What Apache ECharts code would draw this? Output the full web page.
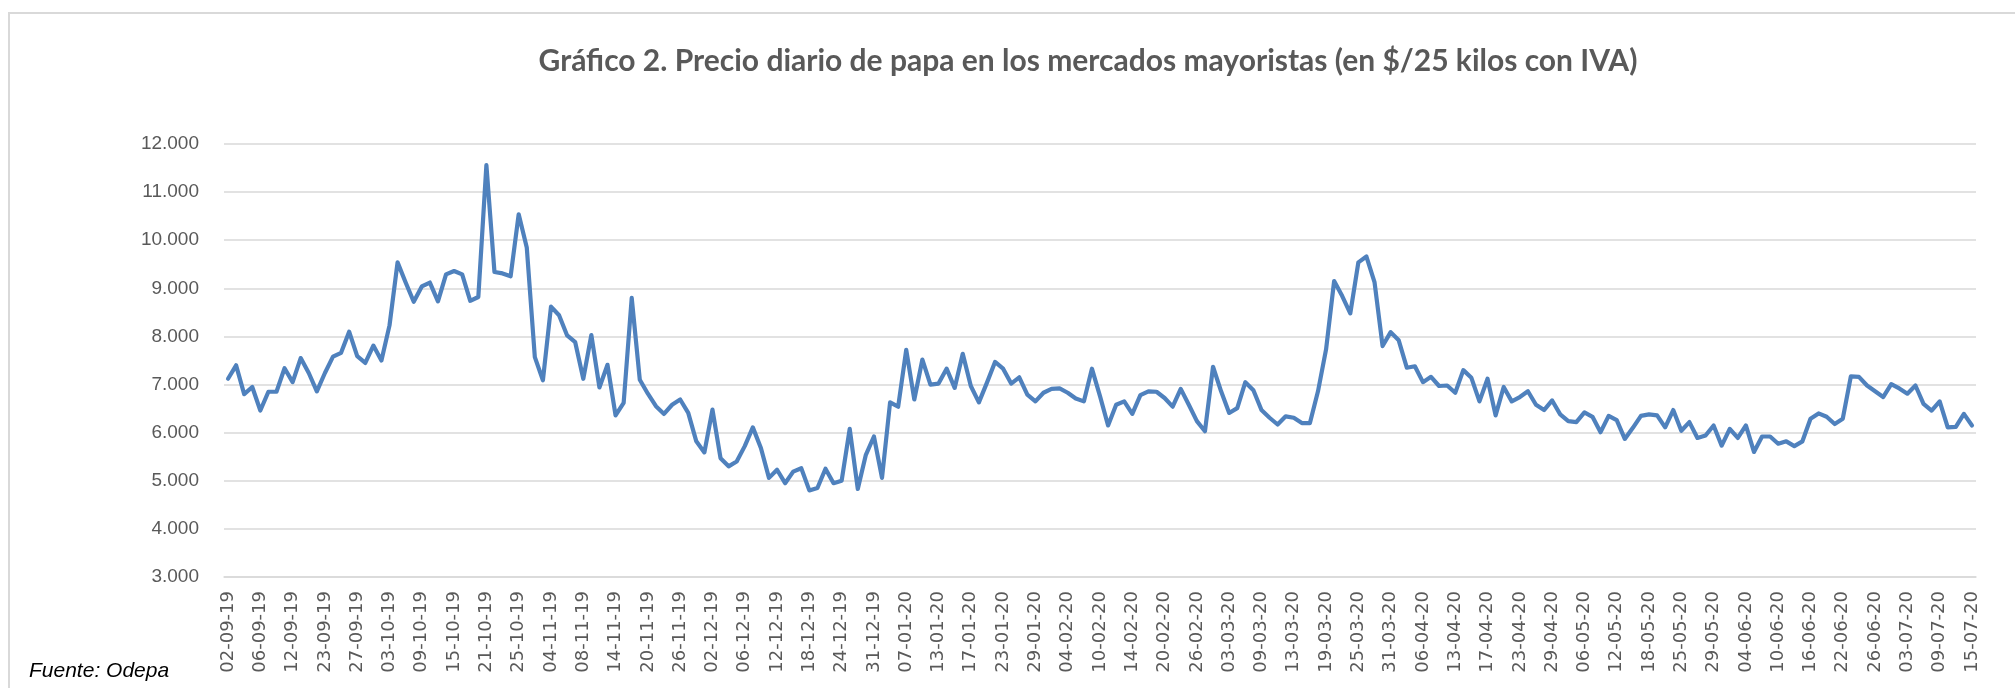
<!DOCTYPE html>
<html>
<head>
<meta charset="utf-8">
<script src="https://cdn.jsdelivr.net/npm/echarts@6/dist/echarts.min.js"></script>
<style>
  html, body { margin: 0; padding: 0; background: #fff; }
  #chart { width: 2015px; height: 688px; }
</style>
</head>
<body>
<div id="chart"></div>
<script>
// etiquetas del eje x (una cada 4 días hábiles)
const tickLabels = [
  '02-09-19', '06-09-19', '12-09-19', '23-09-19', '27-09-19', '03-10-19', '09-10-19', '15-10-19',
  '21-10-19', '25-10-19', '04-11-19', '08-11-19', '14-11-19', '20-11-19', '26-11-19', '02-12-19',
  '06-12-19', '12-12-19', '18-12-19', '24-12-19', '31-12-19', '07-01-20', '13-01-20', '17-01-20',
  '23-01-20', '29-01-20', '04-02-20', '10-02-20', '14-02-20', '20-02-20', '26-02-20', '03-03-20',
  '09-03-20', '13-03-20', '19-03-20', '25-03-20', '31-03-20', '06-04-20', '13-04-20', '17-04-20',
  '23-04-20', '29-04-20', '06-05-20', '12-05-20', '18-05-20', '25-05-20', '29-05-20', '04-06-20',
  '10-06-20', '16-06-20', '22-06-20', '26-06-20', '03-07-20', '09-07-20', '15-07-20'
]

// precio diario ($/25 kg con IVA)
const precios = [
  7120, 7400, 6800, 6950, 6460, 6850, 6850, 7340, 7050, 7550, 7240, 6860,
  7240, 7580, 7660, 8100, 7590, 7450, 7810, 7500, 8230, 9540, 9120, 8720,
  9040, 9120, 8730, 9290, 9360, 9290, 8740, 8820, 11560, 9340, 9310, 9250,
  10540, 9850, 7570, 7090, 8620, 8440, 8020, 7880, 7120, 8030, 6940, 7410,
  6360, 6620, 8800, 7100, 6810, 6550, 6390, 6580, 6690, 6410, 5820, 5590,
  6480, 5470, 5300, 5400, 5720, 6110, 5680, 5060, 5230, 4950, 5190, 5260,
  4800, 4850, 5250, 4950, 5000, 6080, 4830, 5540, 5920, 5060, 6630, 6540,
  7720, 6690, 7520, 7000, 7020, 7330, 6930, 7640, 6970, 6630, 7040, 7470,
  7330, 7020, 7150, 6790, 6650, 6830, 6910, 6920, 6830, 6710, 6650, 7330,
  6760, 6150, 6580, 6650, 6390, 6780, 6860, 6850, 6720, 6540, 6910, 6580,
  6240, 6030, 7370, 6860, 6410, 6510, 7050, 6880, 6470, 6310, 6170, 6340,
  6310, 6200, 6200, 6860, 7730, 9150, 8840, 8480, 9540, 9660, 9130, 7800,
  8090, 7920, 7350, 7380, 7050, 7160, 6970, 6980, 6830, 7300, 7140, 6650,
  7120, 6360, 6950, 6650, 6740, 6860, 6580, 6470, 6670, 6380, 6240, 6220,
  6420, 6330, 6010, 6350, 6260, 5870, 6100, 6350, 6380, 6360, 6110, 6470,
  6040, 6220, 5890, 5940, 6150, 5730, 6080, 5890, 6150, 5600, 5920, 5920,
  5770, 5820, 5720, 5820, 6290, 6400, 6330, 6180, 6290, 7170, 7160, 6980,
  6860, 6740, 7010, 6920, 6810, 6980, 6600, 6460, 6650, 6110, 6120, 6390,
  6150
]

// una etiqueta cada 4 puntos, el resto vacío
const categories = precios.map((v, i) => (i % 4 === 0 ? tickLabels[i / 4] : ''))

const chart = echarts.init(document.getElementById('chart'))
const option = {
  backgroundColor: '#fff',
  animation: false,
  title: {
    text: 'Gráfico 2. Precio diario de papa en los mercados mayoristas (en $/25 kilos con IVA)',
    left: 1083,
    top: 41,
    textAlign: 'center',
    textStyle: {
      fontFamily: 'Lato',
      fontWeight: 'bold',
      fontSize: 30,
      color: '#595959'
    }
  },
  graphic: [
    {
      type: 'rect',
      shape: { x: 9, y: 13, width: 2200, height: 900 },
      style: { fill: 'none', stroke: '#d9d9d9', lineWidth: 2 },
      silent: true
    },
    {
      type: 'text',
      left: 29,
      top: 661,
      style: {
        text: 'Fuente: Odepa',
        font: 'italic 21px "Liberation Sans"',
        fill: '#000'
      }
    }
  ],
  grid: {
    left: 224,
    right: 39,
    top: 144,
    bottom: 111
  },
  xAxis: {
    type: 'category',
    data: categories,
    boundaryGap: true,
    axisLine: { show: true, lineStyle: { color: '#d9d9d9', width: 1.5 } },
    axisTick: { show: false },
    axisLabel: {
      interval: 3,
      rotate: 90,
      margin: 14,
      color: '#595959',
      fontFamily: 'DejaVu Sans',
      fontSize: 18
    }
  },
  yAxis: {
    type: 'value',
    min: 3000,
    max: 12000,
    interval: 1000,
    axisLine: { show: false },
    axisTick: { show: false },
    splitLine: { lineStyle: { color: '#d9d9d9', width: 1.5 } },
    axisLabel: {
      margin: 25,
      color: '#595959',
      fontFamily: 'Liberation Sans',
      fontSize: 19,
      formatter: v => (v / 1000).toFixed(3)
    }
  },
  series: [
    {
      name: 'Precio',
      type: 'line',
      data: precios,
      symbol: 'none',
      lineStyle: { color: '#4f81bd', width: 4.2, cap: 'round', join: 'round' }
    }
  ]
}
chart.setOption(option)
</script>
</body>
</html>
